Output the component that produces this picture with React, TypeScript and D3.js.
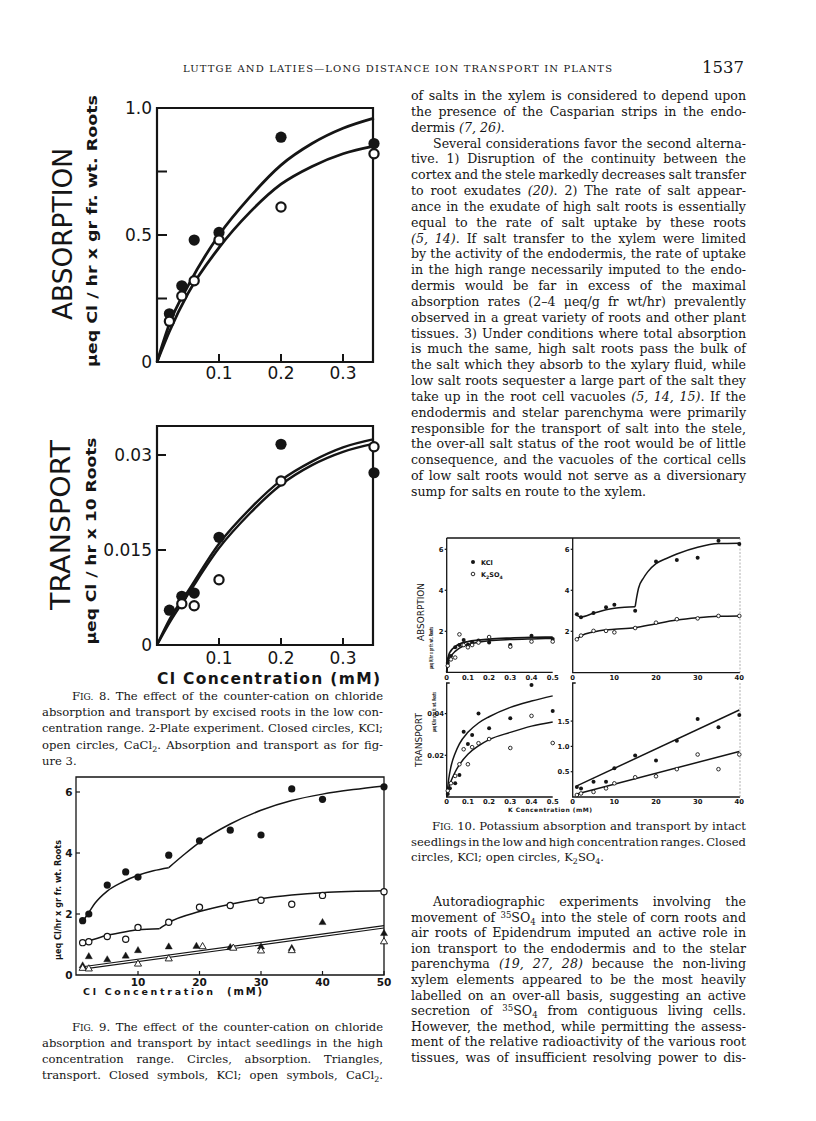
import React, { useRef, useLayoutEffect } from 'react';
import * as d3 from 'd3';

const INK = '#151515';
const SERIF = '"DejaVu Serif", "Liberation Serif", serif';
const SANS = '"DejaVu Sans", "Liberation Sans", sans-serif';

// ---------------- Fig. 8 (low concentration, excised roots) ----------------
const fig8XTicks = [0.1, 0.2, 0.3];
const fig8AbsYTicks = [0.25, 0.5, 0.75];
const fig8AbsYLabels = ['0', '0.5', '1.0'];
const fig8AbsYLabelVals = [0, 0.5, 1.0];
const fig8TrYTicks = [0.015, 0.03];
const fig8TrYLabels = ['0', '0.015', '0.03'];
const fig8TrYLabelVals = [0, 0.015, 0.03];

const fig8AbsKclConc = [0.02, 0.04, 0.06, 0.1, 0.2, 0.35];
const fig8AbsKcl = [0.19, 0.3, 0.48, 0.51, 0.885, 0.86];
const fig8AbsCaConc = [0.02, 0.04, 0.06, 0.1, 0.2, 0.35];
const fig8AbsCa = [0.16, 0.26, 0.32, 0.48, 0.61, 0.82];
const fig8AbsCurveConc = [0, 0.02, 0.05, 0.1, 0.15, 0.2, 0.25, 0.3, 0.35];
const fig8AbsKclCurve = [0, 0.15, 0.3, 0.5, 0.65, 0.775, 0.86, 0.92, 0.96];
const fig8AbsCaCurve = [0, 0.12, 0.27, 0.45, 0.59, 0.7, 0.77, 0.82, 0.85];

const fig8TrKclConc = [0.02, 0.04, 0.06, 0.1, 0.2, 0.35];
const fig8TrKcl = [0.0055, 0.0077, 0.0082, 0.017, 0.0317, 0.0272];
const fig8TrCaConc = [0.04, 0.06, 0.1, 0.2, 0.35];
const fig8TrCa = [0.0065, 0.0062, 0.0103, 0.0259, 0.0313];
const fig8TrCurveConc = [0, 0.02, 0.05, 0.1, 0.15, 0.2, 0.25, 0.3, 0.35];
const fig8TrKclCurve = [0, 0.004, 0.0085, 0.016, 0.0215, 0.026, 0.029, 0.0312, 0.0325];
const fig8TrCaCurve = [0, 0.0035, 0.008, 0.0153, 0.0208, 0.0253, 0.0284, 0.0305, 0.0318];

// ---------------- Fig. 9 (high concentration, intact seedlings) ----------------
const fig9XTicks = [10, 20, 30, 40, 50];
const fig9YTicks = [0, 2, 4, 6];
const fig9KclAbsConc = [1, 2, 5, 8, 10, 15, 20, 25, 30, 35, 40, 50];
const fig9KclAbs = [1.78, 2.0, 2.95, 3.38, 3.21, 3.93, 4.4, 4.75, 4.59, 6.1, 5.76, 6.17];
const fig9CaAbsConc = [1, 2, 5, 8, 10, 15, 20, 25, 30, 35, 40, 50];
const fig9CaAbs = [1.06, 1.09, 1.26, 1.17, 1.56, 1.73, 2.22, 2.28, 2.45, 2.32, 2.61, 2.73];
const fig9KclTrConc = [1, 2, 5, 8, 10, 15, 19.5, 25, 30, 35, 40, 50];
const fig9KclTr = [0.3, 0.6, 0.5, 0.62, 0.8, 0.92, 0.94, 0.9, 0.92, 0.87, 1.72, 1.36];
const fig9CaTrConc = [1, 2, 10, 15, 20.5, 25.5, 30, 35, 50];
const fig9CaTr = [0.22, 0.2, 0.36, 0.53, 0.93, 0.88, 0.79, 0.8, 1.09];
const fig9KclAbsCurveAConc = [1, 2, 3, 5, 7.5, 10, 12.5, 15];
const fig9KclAbsCurveA = [1.75, 2.05, 2.35, 2.75, 3.05, 3.27, 3.42, 3.52];
const fig9KclAbsCurveBConc = [15, 17.5, 20, 25, 30, 35, 40, 45, 50];
const fig9KclAbsCurveB = [3.52, 3.95, 4.35, 4.95, 5.4, 5.72, 5.93, 6.08, 6.2];
const fig9CaAbsCurveAConc = [1, 2, 5, 8, 10, 13.5];
const fig9CaAbsCurveA = [1.07, 1.12, 1.3, 1.42, 1.48, 1.52];
const fig9CaAbsCurveBConc = [13.5, 15, 20, 25, 30, 35, 40, 50];
const fig9CaAbsCurveB = [1.52, 1.72, 2.08, 2.32, 2.5, 2.62, 2.7, 2.76];
const fig9TrLineConc = [1, 50];
const fig9KclTrLine = [0.27, 1.62];
const fig9CaTrLine = [0.19, 1.54];

// ---------------- Fig. 10 (potassium) ----------------
const fig10LowXTicks = [0, 0.1, 0.2, 0.3, 0.4, 0.5];
const fig10LowXLabels = ['0', '0.1', '0.2', '0.3', '0.4', '0.5'];
const fig10HighXTicks = [0, 10, 20, 30, 40];
const fig10AbsYTicks = [2, 4, 6];
const fig10TrLowYTicks = [0.02, 0.04];
const fig10TrLowYLabels = ['0.02', '0.04'];
const fig10TrHighYTicks = [0.5, 1.0, 1.5];
const fig10TrHighYLabels = ['0.5', '1.0', '1.5'];

const f10AbsLowKclConc = [0.005, 0.01, 0.02, 0.04, 0.06, 0.08, 0.1, 0.12, 0.15, 0.2, 0.3, 0.4, 0.5];
const f10AbsLowKcl = [0.45, 0.65, 0.8, 1.22, 1.33, 1.58, 1.35, 1.45, 1.55, 1.45, 1.33, 1.78, 1.63];
const f10AbsLowSo4Conc = [0.005, 0.02, 0.04, 0.06, 0.08, 0.1, 0.12, 0.15, 0.2, 0.3, 0.4, 0.5];
const f10AbsLowSo4 = [0.32, 0.63, 0.72, 1.85, 1.33, 1.22, 1.33, 1.45, 1.72, 1.25, 1.5, 1.5];
const f10AbsLowCurveConc = [0, 0.005, 0.01, 0.02, 0.04, 0.06, 0.1, 0.15, 0.2, 0.3, 0.4, 0.5];
const f10AbsLowKclCurve = [0, 0.6, 0.85, 1.05, 1.25, 1.38, 1.5, 1.57, 1.62, 1.67, 1.7, 1.72];
const f10AbsLowSo4Curve = [0, 0.35, 0.55, 0.78, 1.02, 1.18, 1.35, 1.47, 1.54, 1.6, 1.63, 1.65];

const f10HighConc = [1, 2, 5, 8, 10, 15, 20, 25, 30, 35, 40];
const f10AbsHighKcl = [2.83, 2.68, 2.89, 3.17, 3.3, 3.0, 5.4, 5.48, 5.59, 6.42, 6.26];
const f10AbsHighSo4 = [1.61, 1.79, 2.02, 2.02, 1.95, 2.16, 2.42, 2.59, 2.63, 2.75, 2.75];
const f10AbsHighKclCurveAConc = [1, 2, 5, 8, 10, 12.5, 15];
const f10AbsHighKclCurveA = [2.78, 2.7, 2.88, 3.05, 3.12, 3.17, 3.2];
const f10AbsHighKclCurveBConc = [15, 15.4, 15.8, 17, 18, 20, 22.5, 25, 30, 35, 40];
const f10AbsHighKclCurveB = [3.2, 3.7, 4.1, 4.6, 4.9, 5.3, 5.55, 5.77, 6.1, 6.28, 6.3];
const f10AbsHighSo4CurveConc = [1, 2, 5, 8, 10, 15, 20, 25, 30, 35, 40];
const f10AbsHighSo4Curve = [1.62, 1.78, 1.97, 2.07, 2.1, 2.17, 2.37, 2.55, 2.66, 2.73, 2.75];

const f10TrLowKclConc = [0.005, 0.015, 0.04, 0.06, 0.08, 0.1, 0.12, 0.15, 0.2, 0.3, 0.4, 0.5];
const f10TrLowKcl = [0.0014, 0.0042, 0.0066, 0.0106, 0.0313, 0.0254, 0.0297, 0.0401, 0.033, 0.0378, 0.0537, 0.0412];
const f10TrLowSo4Conc = [0.005, 0.02, 0.04, 0.06, 0.08, 0.1, 0.12, 0.15, 0.2, 0.3, 0.4, 0.5];
const f10TrLowSo4 = [0.003, 0.0066, 0.0101, 0.0157, 0.0229, 0.0157, 0.0239, 0.0258, 0.0278, 0.0235, 0.0389, 0.0259];
const f10TrLowCurveConc = [0, 0.01, 0.02, 0.04, 0.06, 0.1, 0.15, 0.2, 0.3, 0.4, 0.5];
const f10TrLowKclCurve = [0, 0.009, 0.0145, 0.021, 0.0255, 0.031, 0.0355, 0.0385, 0.043, 0.046, 0.0485];
const f10TrLowSo4Curve = [0, 0.0045, 0.0075, 0.012, 0.0155, 0.0205, 0.0245, 0.0275, 0.031, 0.034, 0.036];

const f10TrHighKcl = [0.2, 0.17, 0.3, 0.3, 0.57, 0.82, 0.72, 1.11, 1.54, 1.38, 1.62];
const f10TrHighSo4 = [0.04, 0.07, 0.1, 0.17, 0.27, 0.39, 0.41, 0.55, 0.84, 0.55, 0.84];
const f10TrHighLineConc = [1, 40];
const f10TrHighKclLine = [0.22, 1.72];
const f10TrHighSo4Line = [0.06, 0.9];

// ---------------- Text ----------------
const headerText = 'LUTTGE AND LATIES—LONG DISTANCE ION TRANSPORT IN PLANTS';
const pageNumber = '1537';

const bodyTopLines = [
  'of salts in the xylem is considered to depend upon',
  'the presence of the Casparian strips in the endo-',
  'dermis *(7, 26)*.',
  'Several considerations favor the second alterna-',
  'tive. 1) Disruption of the continuity between the',
  'cortex and the stele markedly decreases salt transfer',
  'to root exudates *(20)*. 2) The rate of salt appear-',
  'ance in the exudate of high salt roots is essentially',
  'equal to the rate of salt uptake by these roots',
  '*(5, 14)*. If salt transfer to the xylem were limited',
  'by the activity of the endodermis, the rate of uptake',
  'in the high range necessarily imputed to the endo-',
  'dermis would be far in excess of the maximal',
  'absorption rates (2–4 μeq/g fr wt/hr) prevalently',
  'observed in a great variety of roots and other plant',
  'tissues. 3) Under conditions where total absorption',
  'is much the same, high salt roots pass the bulk of',
  'the salt which they absorb to the xylary fluid, while',
  'low salt roots sequester a large part of the salt they',
  'take up in the root cell vacuoles *(5, 14, 15)*. If the',
  'endodermis and stelar parenchyma were primarily',
  'responsible for the transport of salt into the stele,',
  'the over-all salt status of the root would be of little',
  'consequence, and the vacuoles of the cortical cells',
  'of low salt roots would not serve as a diversionary',
  'sump for salts en route to the xylem.',
];
const bodyTopIndent = [3];
const bodyTopRagged = [2, 25];

const bodyBottomLines = [
  'Autoradiographic experiments involving the',
  'movement of ^35SO_4 into the stele of corn roots and',
  'air roots of Epidendrum imputed an active role in',
  'ion transport to the endodermis and to the stelar',
  'parenchyma *(19, 27, 28)* because the non-living',
  'xylem elements appeared to be the most heavily',
  'labelled on an over-all basis, suggesting an active',
  'secretion of ^35SO_4 from contiguous living cells.',
  'However, the method, while permitting the assess-',
  'ment of the relative radioactivity of the various root',
  'tissues, was of insufficient resolving power to dis-',
];
const bodyBottomIndent = [0];
const bodyBottomRagged: number[] = [];

const fig8Caption = [
  '{Fig.} 8. The effect of the counter-cation on chloride',
  'absorption and transport by excised roots in the low con-',
  'centration range. 2-Plate experiment. Closed circles, KCl;',
  'open circles, CaCl_2. Absorption and transport as for fig-',
  'ure 3.',
];
const fig8CaptionRagged = [4];

const fig9Caption = [
  '{Fig.} 9. The effect of the counter-cation on chloride',
  'absorption and transport by intact seedlings in the high',
  'concentration range. Circles, absorption. Triangles,',
  'transport. Closed symbols, KCl; open symbols, CaCl_2.',
];
const fig9CaptionRagged: number[] = [];

const fig10Caption = [
  '{Fig.} 10. Potassium absorption and transport by intact',
  'seedlings in the low and high concentration ranges. Closed',
  'circles, KCl; open circles, K_2SO_4.',
];
const fig10CaptionRagged = [2];

// ---------------- helpers ----------------
type Part = { t: string; sc?: boolean; sub?: boolean; sup?: boolean; it?: boolean };
function parse(s: string): Part[] {
  const re = /\{([^}]*)\}|_(\d)|\^(\d+)|\*([^*]+)\*/g;
  const out: Part[] = [];
  let last = 0;
  let m: RegExpExecArray | null;
  while ((m = re.exec(s))) {
    if (m.index > last) out.push({ t: s.slice(last, m.index) });
    if (m[1] !== undefined) {
      out.push({ t: m[1][0] });
      out.push({ t: m[1].slice(1).toUpperCase(), sc: true });
    } else if (m[2] !== undefined) out.push({ t: m[2], sub: true });
    else if (m[3] !== undefined) out.push({ t: m[3], sup: true });
    else out.push({ t: m[4], it: true });
    last = re.lastIndex;
  }
  if (last < s.length) out.push({ t: s.slice(last) });
  return out;
}

function TLine({ x, y, w, size, text }: { x: number; y: number; w: number; size: number; text: string }) {
  const ref = useRef<SVGTextElement>(null);
  useLayoutEffect(() => {
    const el = ref.current;
    if (!el || !w) return;
    el.style.wordSpacing = '0px';
    const len = el.getComputedTextLength();
    const n = (el.textContent || '').split(' ').length - 1;
    if (n > 0) el.style.wordSpacing = (w - len) / n + 'px';
  });
  const parts = parse(text);
  return (
    <text ref={ref} x={x} y={y} fontSize={size} fontFamily={SERIF} fill={INK}>
      {parts.map((p, i) => (
        <tspan
          key={i}
          fontSize={p.sc ? size * 0.78 : p.sub || p.sup ? size * 0.68 : undefined}
          baselineShift={p.sub ? '-3' : p.sup ? '4' : undefined}
          fontStyle={p.it ? 'italic' : undefined}
        >
          {p.t}
        </tspan>
      ))}
    </text>
  );
}

function Block({ lines, x, w, y0, dy, size, indent, indentIdx, ragged }: any) {
  return (
    <g>
      {lines.map((l: string, i: number) => {
        const ind = indentIdx.includes(i) ? indent : 0;
        return (
          <TLine key={i} x={x + ind} y={y0 + i * dy} w={ragged.includes(i) ? 0 : w - ind} size={size} text={l} />
        );
      })}
    </g>
  );
}

const pairs = (xs: number[], ys: number[]) => xs.map((x, i) => [x, ys[i]] as [number, number]);
function linePath(xs: number[], ys: number[], sx: any, sy: any, curve: any = d3.curveMonotoneX) {
  return d3
    .line<[number, number]>()
    .x((d) => sx(d[0]))
    .y((d) => sy(d[1]))
    .curve(curve)(pairs(xs, ys)) as string;
}

function Dots({ xs, ys, sx, sy, r, open, sw }: any) {
  return (
    <g>
      {xs.map((x: number, i: number) => (
        <circle
          key={i}
          cx={sx(x)}
          cy={sy(ys[i])}
          r={r}
          fill={open ? '#fff' : INK}
          stroke={INK}
          strokeWidth={open ? sw : 0}
        />
      ))}
    </g>
  );
}

function Tris({ xs, ys, sx, sy, size, open }: any) {
  const p = d3.symbol(d3.symbolTriangle, size)() as string;
  return (
    <g>
      {xs.map((x: number, i: number) => (
        <path
          key={i}
          d={p}
          transform={`translate(${sx(x)},${sy(ys[i])})`}
          fill={open ? '#fff' : INK}
          stroke={INK}
          strokeWidth={open ? 0.9 : 0.4}
        />
      ))}
    </g>
  );
}

function VLabel({ x, y, len, size, weight, text }: any) {
  return (
    <text
      transform={`translate(${x},${y}) rotate(-90)`}
      textAnchor="middle"
      fontFamily={SANS}
      fontSize={size}
      fontWeight={weight}
      fill={INK}
      textLength={len}
      lengthAdjust="spacingAndGlyphs"
    >
      {text}
    </text>
  );
}

// ---------------- Figures ----------------
function Fig8() {
  const x = d3.scaleLinear().domain([0, 0.35]).range([157, 374]);
  const ya = d3.scaleLinear().domain([0, 1]).range([362, 108]);
  const yt = d3.scaleLinear().domain([0, 0.03]).range([645, 455]);
  const A = { l: 157, r: 373, t: 108, b: 362 };
  const T = { l: 157, r: 373, t: 426, b: 645 };
  const box = (b: any) => `M${b.l},${b.t}H${b.r}V${b.b}H${b.l}Z`;
  return (
    <g>
      {/* absorption */}
      <path d={box(A)} fill="none" stroke={INK} strokeWidth={2.2} />
      {fig8AbsYTicks.map((v) => (
        <line key={v} x1={A.l} x2={A.l + 10} y1={ya(v)} y2={ya(v)} stroke={INK} strokeWidth={2} />
      ))}
      {fig8XTicks.map((v) => (
        <line key={v} x1={x(v)} x2={x(v)} y1={A.b} y2={A.b - 8} stroke={INK} strokeWidth={2} />
      ))}
      {fig8AbsYLabels.map((s, i) => (
        <text key={s} x={152} y={ya(fig8AbsYLabelVals[i]) + 6} textAnchor="end" fontFamily={SANS} fontSize={17} fill={INK}>
          {s}
        </text>
      ))}
      {fig8XTicks.map((v) => (
        <text key={v} x={x(v)} y={379} textAnchor="middle" fontFamily={SANS} fontSize={17} fill={INK}>
          {String(v)}
        </text>
      ))}
      <path d={linePath(fig8AbsCurveConc, fig8AbsKclCurve, x, ya)} fill="none" stroke={INK} strokeWidth={2.8} />
      <path d={linePath(fig8AbsCurveConc, fig8AbsCaCurve, x, ya)} fill="none" stroke={INK} strokeWidth={2.8} />
      <Dots xs={fig8AbsKclConc} ys={fig8AbsKcl} sx={x} sy={ya} r={5.6} />
      <Dots xs={fig8AbsCaConc} ys={fig8AbsCa} sx={x} sy={ya} r={4.6} open sw={2.2} />
      <VLabel x={72} y={234} len={172} size={27} weight={400} text="ABSORPTION" />
      <VLabel x={97} y={231} len={272} size={14} weight={700} text="μeq Cl / hr x gr fr. wt. Roots" />

      {/* transport */}
      <path d={box(T)} fill="none" stroke={INK} strokeWidth={2.2} />
      {fig8TrYTicks.map((v) => (
        <line key={v} x1={T.l} x2={T.l + 9} y1={yt(v)} y2={yt(v)} stroke={INK} strokeWidth={2} />
      ))}
      {fig8XTicks.map((v) => (
        <line key={v} x1={x(v)} x2={x(v)} y1={T.b} y2={T.b - 7} stroke={INK} strokeWidth={2} />
      ))}
      {fig8TrYLabels.map((s, i) => (
        <text key={s} x={152} y={yt(fig8TrYLabelVals[i]) + 6} textAnchor="end" fontFamily={SANS} fontSize={17} fill={INK}>
          {s}
        </text>
      ))}
      {fig8XTicks.map((v) => (
        <text key={v} x={x(v)} y={664} textAnchor="middle" fontFamily={SANS} fontSize={17} fill={INK}>
          {String(v)}
        </text>
      ))}
      <text x={157} y={684} fontFamily={SANS} fontSize={15.5} fontWeight={700} fill={INK} textLength={223} lengthAdjust="spacing">
        Cl Concentration (mM)
      </text>
      <path d={linePath(fig8TrCurveConc, fig8TrKclCurve, x, yt)} fill="none" stroke={INK} strokeWidth={2.4} />
      <path d={linePath(fig8TrCurveConc, fig8TrCaCurve, x, yt)} fill="none" stroke={INK} strokeWidth={2.4} />
      <Dots xs={fig8TrKclConc} ys={fig8TrKcl} sx={x} sy={yt} r={5.6} />
      <Dots xs={fig8TrCaConc} ys={fig8TrCa} sx={x} sy={yt} r={4.6} open sw={2.2} />
      <VLabel x={70} y={525} len={170} size={27} weight={400} text="TRANSPORT" />
      <VLabel x={96} y={541} len={207} size={14} weight={700} text="μeq Cl / hr x 10 Roots" />
    </g>
  );
}

function Fig9() {
  const x = d3.scaleLinear().domain([0, 50]).range([76.5, 384]);
  const y = d3.scaleLinear().domain([0, 6]).range([975, 792]);
  const B = { l: 76, r: 384, t: 777, b: 975 };
  return (
    <g>
      <path d={`M${B.l},${B.t}H${B.r}V${B.b}H${B.l}Z`} fill="none" stroke={INK} strokeWidth={1.3} />
      {fig9YTicks.filter((v) => v > 0).map((v) => (
        <line key={v} x1={B.l} x2={B.l + 4} y1={y(v)} y2={y(v)} stroke={INK} strokeWidth={1.2} />
      ))}
      {fig9XTicks.map((v) => (
        <line key={v} x1={x(v)} x2={x(v)} y1={B.b} y2={B.b - 4} stroke={INK} strokeWidth={1.2} />
      ))}
      {fig9YTicks.map((v) => (
        <text key={v} x={69} y={y(v) + 4} textAnchor="middle" fontFamily={SANS} fontSize={10.5} fontWeight={700} fill={INK}>
          {v}
        </text>
      ))}
      {fig9XTicks.map((v) => (
        <text key={v} x={x(v)} y={986} textAnchor="middle" fontFamily={SANS} fontSize={10.5} fontWeight={700} fill={INK}>
          {v}
        </text>
      ))}
      <text x={83} y={995} fontFamily={SANS} fontSize={9.5} fontWeight={700} fill={INK} textLength={130} lengthAdjust="spacing">
        Cl Concentration
      </text>
      <text x={227} y={995} fontFamily={SANS} fontSize={10} fontWeight={700} fill={INK} textLength={35} lengthAdjust="spacing">
        (mM)
      </text>
      <VLabel x={61} y={900} len={120} size={9} weight={700} text="μeq Cl/hr x gr fr. wt. Roots" />

      <path d={linePath(fig9KclAbsCurveAConc, fig9KclAbsCurveA, x, y)} fill="none" stroke={INK} strokeWidth={1.5} />
      <path d={linePath(fig9KclAbsCurveBConc, fig9KclAbsCurveB, x, y)} fill="none" stroke={INK} strokeWidth={1.5} />
      <path d={linePath(fig9CaAbsCurveAConc, fig9CaAbsCurveA, x, y)} fill="none" stroke={INK} strokeWidth={1.5} />
      <path d={linePath(fig9CaAbsCurveBConc, fig9CaAbsCurveB, x, y)} fill="none" stroke={INK} strokeWidth={1.5} />
      <path d={linePath(fig9TrLineConc, fig9KclTrLine, x, y, d3.curveLinear)} fill="none" stroke={INK} strokeWidth={1.2} />
      <path d={linePath(fig9TrLineConc, fig9CaTrLine, x, y, d3.curveLinear)} fill="none" stroke={INK} strokeWidth={1.2} />

      <Dots xs={fig9KclAbsConc} ys={fig9KclAbs} sx={x} sy={y} r={3.6} />
      <Dots xs={fig9CaAbsConc} ys={fig9CaAbs} sx={x} sy={y} r={3.1} open sw={1.2} />
      <Tris xs={fig9KclTrConc} ys={fig9KclTr} sx={x} sy={y} size={22} />
      <Tris xs={fig9CaTrConc} ys={fig9CaTr} sx={x} sy={y} size={22} open />
    </g>
  );
}

function Fig10() {
  const xL = d3.scaleLinear().domain([0, 0.5]).range([446.7, 552.7]);
  const xR = d3.scaleLinear().domain([0, 40]).range([572.7, 739.3]);
  const yA = d3.scaleLinear().domain([0, 2]).range([672.3, 631.3]);
  const yTL = d3.scaleLinear().domain([0, 0.02]).range([797, 755.3]);
  const yTR = d3.scaleLinear().domain([0, 0.5]).range([797, 771.7]);
  const lw = 1.5;
  const fs = 6.8;
  const tl = (x: number, y: number, s: string, anchor: string = 'middle') => (
    <text key={s + x + y} x={x} y={y} textAnchor={anchor} fontFamily={SANS} fontSize={fs} fontWeight={700} fill={INK}>
      {s}
    </text>
  );
  return (
    <g>
      {/* frames */}
      <path d={`M446.7,538H740`} stroke={INK} strokeWidth={1.3} />
      <path d={`M446.7,538V672.3H552.7`} fill="none" stroke={INK} strokeWidth={1.3} />
      <path d={`M572.7,538V672.7H740`} fill="none" stroke={INK} strokeWidth={1.3} />
      <path d={`M740,538V672.7`} stroke="#9a9a9a" strokeWidth={0.8} strokeDasharray="2,1.5" />
      <path d={`M449.7,683H446.7V797H552.7`} fill="none" stroke={INK} strokeWidth={1.3} />
      <path d={`M575.7,683H572.7V797H740`} fill="none" stroke={INK} strokeWidth={1.3} />
      <path d={`M740,683V797`} stroke="#9a9a9a" strokeWidth={0.8} strokeDasharray="2,1.5" />

      {/* ticks & labels */}
      {fig10AbsYTicks.map((v) => (
        <g key={'a' + v}>
          <line x1={444.7} x2={446.7} y1={yA(v)} y2={yA(v)} stroke={INK} strokeWidth={1.2} />
          <line x1={570.7} x2={572.7} y1={yA(v)} y2={yA(v)} stroke={INK} strokeWidth={1.2} />
          {tl(443.5, yA(v) + 2.4, String(v), 'end')}
          {tl(569.5, yA(v) + 2.4, String(v), 'end')}
        </g>
      ))}
      {fig10TrLowYTicks.map((v, i) => (
        <g key={'tl' + v}>
          <line x1={444.7} x2={446.7} y1={yTL(v)} y2={yTL(v)} stroke={INK} strokeWidth={1.2} />
          {tl(444, yTL(v) + 2.4, fig10TrLowYLabels[i], 'end')}
        </g>
      ))}
      {fig10TrHighYTicks.map((v, i) => (
        <g key={'tr' + v}>
          <line x1={570.7} x2={572.7} y1={yTR(v)} y2={yTR(v)} stroke={INK} strokeWidth={1.2} />
          {tl(569.5, yTR(v) + 2.4, fig10TrHighYLabels[i], 'end')}
        </g>
      ))}
      {fig10LowXTicks.map((v, i) => (
        <g key={'lx' + v}>
          {tl(xL(v), 679.8, fig10LowXLabels[i])}
          {tl(xL(v), 803.8, fig10LowXLabels[i])}
        </g>
      ))}
      {fig10HighXTicks.map((v) => (
        <g key={'hx' + v}>
          {tl(xR(v), 679.8, String(v))}
          {tl(xR(v), 803.8, String(v))}
        </g>
      ))}
      <text x={550} y={812} textAnchor="middle" fontFamily={SANS} fontSize={6} fontWeight={700} fill={INK} textLength={84} lengthAdjust="spacing">
        K Concentration (mM)
      </text>
      <VLabel x={424} y={612} len={58} size={9} weight={400} text="ABSORPTION" />
      <VLabel x={433} y={648} len={42} size={5.5} weight={700} text="μeq K/hr x gr fr. wt. Roots" />
      <VLabel x={422} y={740} len={54} size={9} weight={400} text="TRANSPORT" />
      <VLabel x={436} y={712} len={40} size={5.5} weight={700} text="μeq K/hr x gr fr. wt. Roots" />

      {/* legend */}
      <circle cx={473} cy={562} r={2} fill={INK} />
      <text x={481} y={564.5} fontFamily={SANS} fontSize={6.5} fontWeight={700} fill={INK}>KCl</text>
      <circle cx={473} cy={574} r={1.8} fill="#fff" stroke={INK} strokeWidth={0.9} />
      <text x={481} y={576.5} fontFamily={SANS} fontSize={6.5} fontWeight={700} fill={INK}>
        K<tspan fontSize={4.6} baselineShift="-1.5">2</tspan>SO<tspan fontSize={4.6} baselineShift="-1.5">4</tspan>
      </text>

      {/* absorption low */}
      <path d={linePath(f10AbsLowCurveConc, f10AbsLowKclCurve, xL, yA)} fill="none" stroke={INK} strokeWidth={1.8} />
      <path d={linePath(f10AbsLowCurveConc, f10AbsLowSo4Curve, xL, yA)} fill="none" stroke={INK} strokeWidth={1.5} />
      <Dots xs={f10AbsLowKclConc} ys={f10AbsLowKcl} sx={xL} sy={yA} r={2} />
      <Dots xs={f10AbsLowSo4Conc} ys={f10AbsLowSo4} sx={xL} sy={yA} r={1.8} open sw={0.9} />

      {/* absorption high */}
      <path d={linePath(f10AbsHighKclCurveAConc, f10AbsHighKclCurveA, xR, yA)} fill="none" stroke={INK} strokeWidth={lw} />
      <path d={linePath(f10AbsHighKclCurveBConc, f10AbsHighKclCurveB, xR, yA)} fill="none" stroke={INK} strokeWidth={lw} />
      <path d={linePath(f10AbsHighSo4CurveConc, f10AbsHighSo4Curve, xR, yA)} fill="none" stroke={INK} strokeWidth={lw} />
      <Dots xs={f10HighConc} ys={f10AbsHighKcl} sx={xR} sy={yA} r={2} />
      <Dots xs={f10HighConc} ys={f10AbsHighSo4} sx={xR} sy={yA} r={1.8} open sw={0.9} />

      {/* transport low */}
      <path d={linePath(f10TrLowCurveConc, f10TrLowKclCurve, xL, yTL)} fill="none" stroke={INK} strokeWidth={lw} />
      <path d={linePath(f10TrLowCurveConc, f10TrLowSo4Curve, xL, yTL)} fill="none" stroke={INK} strokeWidth={lw} />
      <Dots xs={f10TrLowKclConc} ys={f10TrLowKcl} sx={xL} sy={yTL} r={2} />
      <Dots xs={f10TrLowSo4Conc} ys={f10TrLowSo4} sx={xL} sy={yTL} r={1.8} open sw={0.9} />

      {/* transport high */}
      <path d={linePath(f10TrHighLineConc, f10TrHighKclLine, xR, yTR, d3.curveLinear)} fill="none" stroke={INK} strokeWidth={lw} />
      <path d={linePath(f10TrHighLineConc, f10TrHighSo4Line, xR, yTR, d3.curveLinear)} fill="none" stroke={INK} strokeWidth={lw} />
      <Dots xs={f10HighConc} ys={f10TrHighKcl} sx={xR} sy={yTR} r={2} />
      <Dots xs={f10HighConc} ys={f10TrHighSo4} sx={xR} sy={yTR} r={1.8} open sw={0.9} />
    </g>
  );
}

export default function App() {
  return (
    <div style={{ position: 'absolute', left: 0, top: 0, width: 816, height: 1121, background: '#fff' }}>
      <svg width={816} height={1121} viewBox="0 0 816 1121" style={{ display: 'block' }}>
        <rect width={816} height={1121} fill="#fff" />
        <text x={183} y={72} fontFamily={SERIF} fontSize={10} fill={INK} textLength={429} lengthAdjust="spacing">
          {headerText}
        </text>
        <text x={744} y={73} textAnchor="end" fontFamily={SERIF} fontSize={16.5} fill={INK}>
          {pageNumber}
        </text>
        <Fig8 />
        <Fig9 />
        <Fig10 />
        <Block lines={bodyTopLines} x={411} w={335} y0={100} dy={15.84} size={12.6} indent={22} indentIdx={bodyTopIndent} ragged={bodyTopRagged} />
        <Block lines={bodyBottomLines} x={411} w={335} y0={906} dy={15.6} size={12.6} indent={22} indentIdx={bodyBottomIndent} ragged={bodyBottomRagged} />
        <Block lines={fig8Caption} x={42} w={341} y0={700} dy={16.2} size={11.6} indent={30} indentIdx={[0]} ragged={fig8CaptionRagged} />
        <Block lines={fig9Caption} x={42} w={341} y0={1031} dy={16} size={11.6} indent={30} indentIdx={[0]} ragged={fig9CaptionRagged} />
        <Block lines={fig10Caption} x={411} w={335} y0={830} dy={15.5} size={11.6} indent={21} indentIdx={[0]} ragged={fig10CaptionRagged} />
      </svg>
    </div>
  );
}
